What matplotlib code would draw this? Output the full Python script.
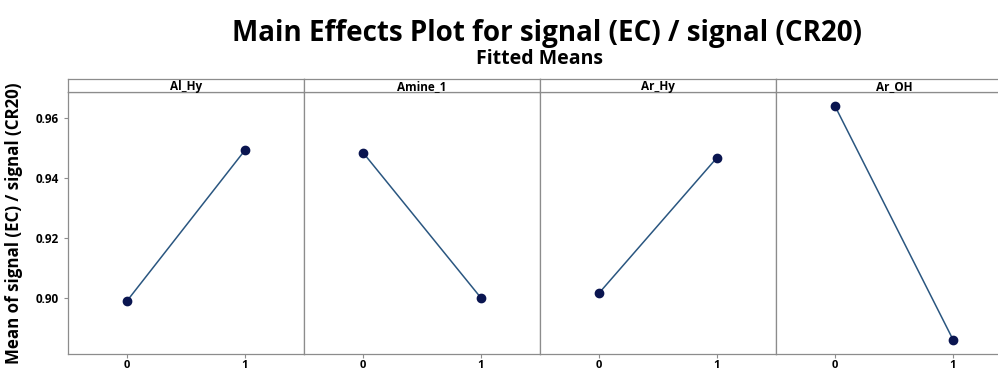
import matplotlib.pyplot as plt

factors = ["Al_Hy", "Amine_1", "Ar_Hy", "Ar_OH"]
levels = [0, 1]
means = [
    [0.8989, 0.9492],
    [0.9484, 0.8999],
    [0.9015, 0.9467],
    [0.9639, 0.8860],
]
yticks = [0.90, 0.92, 0.94, 0.96]

W, H = 998, 372
fig = plt.figure(figsize=(W / 100, H / 100), dpi=100)
plt.rcParams["font.family"] = ["Open Sans", "DejaVu Sans"]

left, pw = 68, 236
top_strip, bot_strip, bottom = 79, 92, 354
frame = "#8c8c8c"

for i, (name, vals) in enumerate(zip(factors, means)):
    x0 = left + i * pw
    ax = fig.add_axes([x0 / W, 1 - bottom / H, pw / W, (bottom - bot_strip) / H])
    ax.plot(levels, vals, color="#2a5680", lw=1.1, zorder=2)
    ax.plot(levels, vals, "o", color="#0a1550", ms=6, zorder=3)
    ax.set_xlim(-0.5, 1.5)
    ax.set_ylim(0.8812, 0.9686)
    ax.set_xticks(levels)
    ax.set_xticklabels([str(l) for l in levels], fontsize=8, fontweight="bold")
    ax.set_yticks(yticks)
    if i == 0:
        ax.set_yticklabels([f"{t:.2f}" for t in yticks], fontsize=8.5, fontweight="bold")
        ax.set_ylabel("Mean of signal (EC) / signal (CR20)", fontsize=12.2,
                      fontweight="bold")
        ax.yaxis.set_label_coords(-0.19, 0.5)
        ax.tick_params(axis="y", length=3, color=frame)
    else:
        ax.tick_params(axis="y", length=0, labelleft=False)
    ax.tick_params(axis="x", length=3, color=frame, pad=1.5)
    for s in ax.spines.values():
        s.set_color(frame)
        s.set_linewidth(0.9)

    sx = fig.add_axes([x0 / W, 1 - bot_strip / H, pw / W, (bot_strip - top_strip) / H])
    sx.set_xticks([])
    sx.set_yticks([])
    for s in sx.spines.values():
        s.set_color(frame)
        s.set_linewidth(0.9)
    sx.text(0.5, 0.45, name, transform=sx.transAxes, ha="center", va="center",
            fontsize=8.5, fontweight="bold")

fig.text(0.548, 1 - 33 / H, "Main Effects Plot for signal (EC) / signal (CR20)",
         ha="center", va="center", fontsize=20, fontweight="bold")
fig.text(0.541, 1 - 59 / H, "Fitted Means", ha="center", va="center",
         fontsize=14, fontweight="bold")

fig.savefig("out.png", dpi=100)
